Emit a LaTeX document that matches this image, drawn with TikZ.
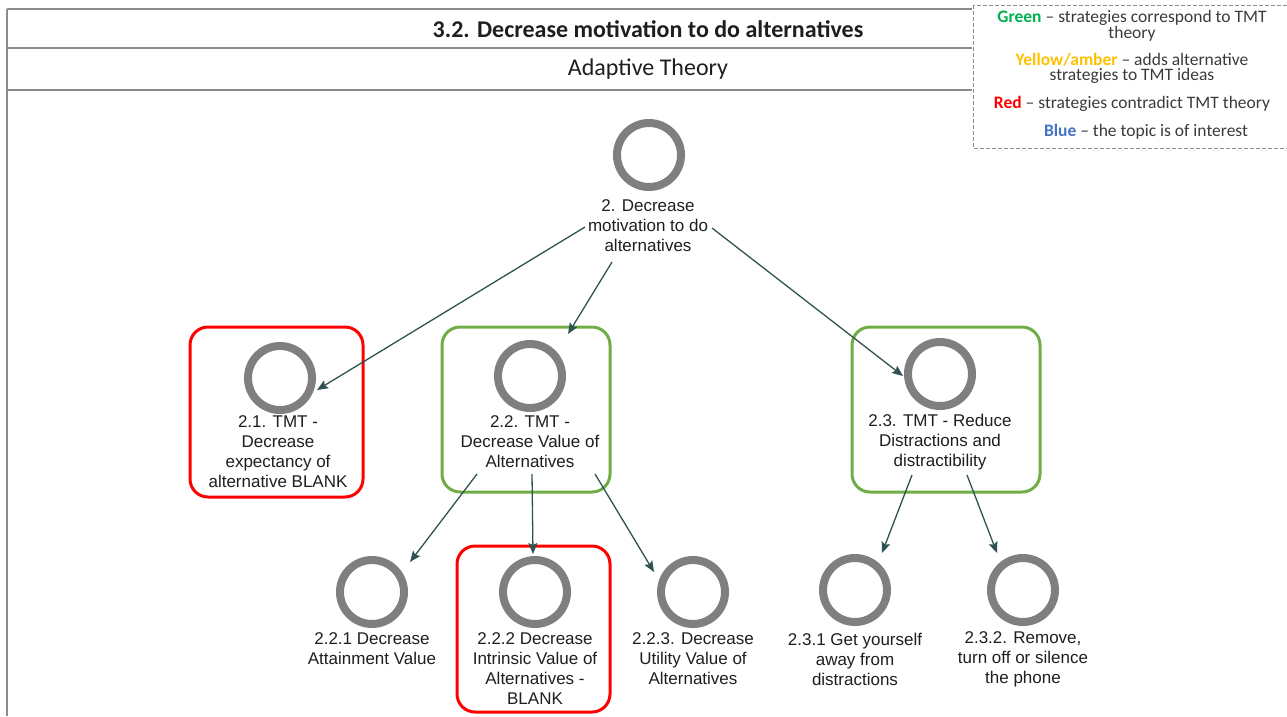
\documentclass[tikz,border=0pt]{standalone}
\usepackage{fontspec}
\setmainfont{Liberation Sans}
\newfontfamily\calibri{Carlito}
\usetikzlibrary{arrows.meta,calc}
\definecolor{ringgray}{HTML}{7F7F7F}
\definecolor{linkcol}{HTML}{2F5350}
\definecolor{okgreen}{HTML}{70AD47}
\definecolor{badred}{HTML}{FF0000}
\definecolor{legGreen}{HTML}{00B050}
\definecolor{legYellow}{HTML}{FFC000}
\definecolor{legRed}{HTML}{FF0000}
\definecolor{legBlue}{HTML}{4472C4}
\definecolor{rulegray}{HTML}{8C8C8C}
\definecolor{txt}{HTML}{1E1E1E}
\definecolor{legtext}{HTML}{3A3A3A}

\begin{document}
\begin{tikzpicture}[x=1pt,y=-1pt,
  ring/.style={circle, draw=ringgray, line width=8pt, minimum size=64pt, inner sep=0pt},
  lbl/.style={align=center, inner sep=0pt, text=txt, font=\fontsize{17}{20}\selectfont},
  boxframe/.style={draw, rounded corners=18pt, line width=3pt, inner sep=0pt},
  redframe/.style={boxframe, draw=badred},
  greenframe/.style={boxframe, draw=okgreen},
  link/.style={draw=linkcol, line width=1.3pt, -{Stealth[length=11pt,width=9pt,inset=2pt]}},
  legtxt/.style={font=\calibri\fontsize{17.5}{15}\selectfont, text=legtext, align=center, inner sep=0pt},
  rule/.style={draw=rulegray, line width=2.5pt},
  headtxt/.style={font=\calibri\fontsize{24}{26}\selectfont, text=txt, inner sep=0pt},
]
\useasboundingbox (0,0) rectangle (1287,716);

% header table
\draw[rule] (7,9) -- (972,9);
\draw[rule] (7,48) -- (972,48);
\draw[rule] (7,90) -- (972,90);
\draw[draw=rulegray, line width=1.5pt] (7,9) -- (7,716);
\node[headtxt, font=\calibri\bfseries\fontsize{24}{26}\selectfont] (title) at (648,29) {3.2. Decrease motivation to do alternatives};
\node[headtxt] (subtitle) at (648,69) {Adaptive Theory};

% legend
\draw[draw=rulegray, line width=1pt, dash pattern=on 4pt off 2pt] (973,5) rectangle (1290,148);
\node[legtxt] (lg1) at (1132,25.5) {\textbf{\textcolor{legGreen}{Green}} – strategies correspond to TMT\\theory};
\node[legtxt] (lg2) at (1132,68) {\textbf{\textcolor{legYellow}{Yellow/amber}} – adds alternative\\strategies to TMT ideas};
\node[legtxt] (lg3) at (1132,104) {\textbf{\textcolor{legRed}{Red}} – strategies contradict TMT theory};
\node[legtxt] (lg4) at (1146,132) {\textbf{\textcolor{legBlue}{Blue}} – the topic is of interest};

% coloured frames
\node[redframe, minimum width=173pt, minimum height=170pt] (f21) at (276.5,412) {};
\node[greenframe, minimum width=168pt, minimum height=165pt] (f22) at (526,409.5) {};
\node[greenframe, minimum width=188pt, minimum height=165pt] (f23) at (946,409.5) {};
\node[redframe, minimum width=153pt, minimum height=166pt] (f222) at (533.5,629) {};

% goal nodes
\node[ring] (c0) at (649,155) {};
\node[lbl] (l0) at (648,226) {2. Decrease\\motivation to do\\alternatives};

\node[ring] (c21) at (280,378) {};
\node[lbl] (l21) at (278,452) {2.1. TMT -\\Decrease\\expectancy of\\alternative BLANK};

\node[ring] (c22) at (530,376) {};
\node[lbl] (l22) at (530,442) {2.2. TMT -\\Decrease Value of\\Alternatives};

\node[ring] (c23) at (940,374) {};
\node[lbl] (l23) at (940,442) {2.3. TMT - Reduce\\Distractions and\\distractibility};

\node[ring] (c221) at (372,592) {};
\node[lbl] (l221) at (372,649) {2.2.1 Decrease\\Attainment Value};

\node[ring] (c222) at (535,592) {};
\node[lbl] (l222) at (535,669) {2.2.2 Decrease\\Intrinsic Value of\\Alternatives -\\BLANK};

\node[ring] (c223) at (693,592) {};
\node[lbl] (l223) at (693,659) {2.2.3. Decrease\\Utility Value of\\Alternatives};

\node[ring] (c231) at (855,590) {};
\node[lbl] (l231) at (855,659) {2.3.1 Get yourself\\away from\\distractions};

\node[ring] (c232) at (1023,590) {};
\node[lbl] (l232) at (1023,659) {2.3.2. Remove,\\turn off or silence\\the phone};

% connectors
\draw[link] ($(l0)+(-63,1)$) -- ($(c21)+(37,12)$);
\draw[link] ($(l0)+(-36,36)$) -- ($(c22)+(38,-42)$);
\draw[link] ($(l0)+(64,2)$) -- ($(c23)+(-37,2)$);

\draw[link] ($(l22)+(-53,32)$) -- ($(c221)+(38,-30)$);
\draw[link] ($(l22)+(2,32)$) -- ($(c222)+(-2,-38)$);
\draw[link] ($(l22)+(65,32)$) -- ($(c223)+(-39,-20)$);

\draw[link] ($(l23)+(-28,33)$) -- ($(c231)+(27,-37)$);
\draw[link] ($(l23)+(27,33)$) -- ($(c232)+(-26,-37)$);
\end{tikzpicture}
\end{document}
